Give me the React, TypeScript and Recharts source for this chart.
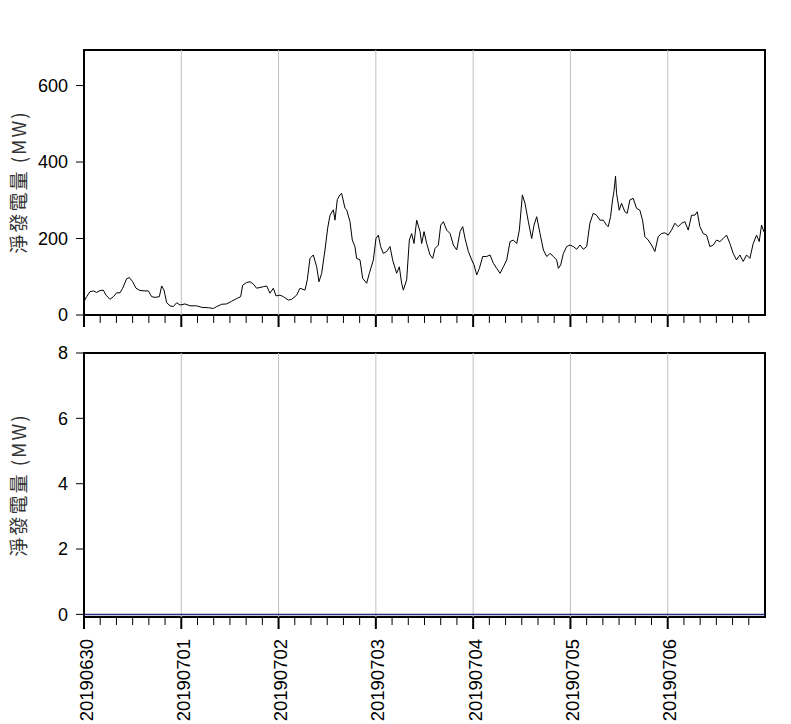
import React from "react";
import {
  LineChart,
  Line,
  XAxis,
  YAxis,
  ReferenceLine,
  ReferenceArea,
} from "recharts";

// hours since 2019-06-30 00:00
const hours = [
  0.0, 0.66, 1.48, 2.3, 3.13, 3.95, 4.77, 5.43, 6.41, 7.24,
  8.06, 8.88, 9.54, 10.53, 11.18, 12.01, 12.83, 13.82, 15.05, 15.87,
  16.69, 17.52, 18.59, 19.16, 19.74, 20.39, 21.22, 22.04, 22.86, 23.68,
  24.92, 26.15, 27.8, 29.03, 30.67, 31.91, 32.73, 33.96, 35.2, 36.43,
  37.66, 38.65, 39.14, 40.13,
  40.95, 41.77, 42.59, 43.42, 44.24, 45.06, 45.88, 46.71, 47.36, 48.35,
  49.17, 50.41, 51.23, 52.46, 53.28, 54.52, 55.09, 55.75, 56.57, 57.4,
  57.97, 58.63, 59.45, 60.11, 60.69, 61.51, 61.92, 62.49, 63.15, 63.56,
  64.39, 64.8, 65.62, 66.19, 66.85, 67.26, 68.09, 68.74, 69.73, 70.39,
  71.38, 72.03, 72.61, 73.18, 73.84, 74.66, 75.49, 76.14, 77.13, 77.79,
  78.36, 78.78, 79.6, 80.26, 80.83, 81.41, 82.07,
  82.9, 83.31, 83.89, 84.54, 85.37, 86.02, 86.6, 87.42, 88.0, 88.66,
  89.48, 90.3, 91.12, 91.95, 92.77, 93.43, 94.0, 94.82, 95.65, 96.22,
  96.88, 97.54, 98.36, 99.35, 100.17, 101.0, 101.81, 102.64, 103.46, 104.28,
  105.1, 105.92, 106.75, 107.4, 108.14, 108.8, 109.62, 110.45, 111.02, 111.68,
  112.5, 113.33, 114.15, 114.97, 115.79, 116.61, 117.03, 117.6, 118.26, 119.08,
  119.9, 120.73, 121.55, 122.37, 123.19, 124.02,
  124.8, 125.62, 126.45, 127.27, 128.09, 128.91, 129.32, 129.9, 130.39, 130.72,
  131.13, 131.38, 132.04, 132.61, 133.43, 134.01, 134.67, 135.49, 136.31, 137.13,
  137.79, 138.37, 139.19, 140.01, 140.83, 141.66, 142.48, 143.3, 144.12, 144.95,
  145.77, 146.59, 147.41, 148.24, 149.06, 149.88, 150.7, 151.28, 151.94, 152.76,
  153.58, 154.4, 155.23, 156.05, 156.87, 157.69, 158.51, 159.34, 160.16, 160.98,
  161.8, 162.63, 163.45, 164.27, 165.09, 165.92, 166.57, 167.15, 167.72, 168.0,
];

// net generation (MW), top panel
const netMW = [
  35, 48, 61, 63, 59, 64, 65, 52, 41, 48,
  58, 58, 70, 95, 98, 87, 70, 64, 63, 63,
  48, 46, 48, 76, 65, 32, 24, 22, 32, 26,
  29, 24, 24, 20, 19, 17, 22, 28, 29, 36,
  43, 48, 78, 85,
  87, 81, 70, 72, 74, 76, 57, 70, 50, 52,
  48, 39, 41, 52, 70, 65, 92, 148, 157, 126,
  87, 109, 170, 227, 261, 275, 248, 302, 314, 318,
  279, 275, 244, 196, 179, 148, 144, 96, 83, 109,
  144, 200, 209, 179, 161, 166, 179, 144, 109, 126,
  83, 65, 92, 196, 213, 187, 248,
  218, 187, 218, 187, 157, 148, 174, 183, 235, 244,
  222, 213, 183, 170, 218, 231, 200, 166, 144, 131,
  105, 122, 153, 153, 157, 135, 122, 109, 126, 144,
  192, 196, 187, 222, 314, 292, 244, 200, 235, 257,
  213, 170, 153, 161, 153, 144, 122, 131, 161, 179,
  183, 179, 172, 183, 172, 179,
  240, 266, 261, 248, 248, 235, 231, 257, 301, 322,
  363, 318, 274, 292, 270, 266, 301, 305, 279, 274,
  248, 205, 196, 183, 166, 205, 213, 215, 209, 222,
  240, 231, 240, 244, 222, 261, 261, 270, 231, 213,
  209, 179, 183, 196, 192, 200, 209, 187, 161, 144,
  157, 140, 157, 148, 187, 209, 192, 235, 218, 225,
];

// bottom panel: flat zero
const lowerHours = [0, 168];
const lowerMW = [0, 0];

const dayLabels = ["20190630", "20190701", "20190702", "20190703", "20190704", "20190705", "20190706"];
const topTicks = [0, 200, 400, 600];
const lowerTicks = [0, 2, 4, 6, 8];

const topData = hours.map((t, i) => ({ t, mw: netMW[i] }));
const lowerData = lowerHours.map((t, i) => ({ t, mw: lowerMW[i] }));
const xTicks = dayLabels.flatMap((_, d) => [0, 4, 8, 12, 16, 20].map((h) => d * 24 + h));
const dayLines = dayLabels.slice(1).map((_, i) => (i + 1) * 24);

const FONT = '"Liberation Sans", Arial, sans-serif';
const TOP_MAX = 693;
const LOW_MIN = -0.08;

function TimeTick(props: any) {
  const { x, y, payload, withLabel } = props;
  const h = payload.value as number;
  const major = h % 24 === 0;
  return (
    <g>
      <line
        x1={x}
        x2={x}
        y1={y}
        y2={y + (major ? 12 : 8)}
        stroke="#000"
        strokeWidth={major ? 2 : 1}
      />
      {withLabel && major ? (
        <text
          transform={`translate(${x + 2},${y + 22}) rotate(-90)`}
          textAnchor="end"
          dominantBaseline="central"
          fontFamily={FONT}
          fontSize={18.5}
          fill="#000"
        >
          {dayLabels[h / 24]}
        </text>
      ) : null}
    </g>
  );
}

function YLabel({ top }: { top: number }) {
  return (
    <div
      style={{
        position: "absolute",
        left: 17,
        top,
        transform: "translate(-50%, -50%) rotate(-90deg)",
        whiteSpace: "nowrap",
        fontFamily: '"Noto Sans CJK TC", "Liberation Sans", sans-serif',
        fontSize: 19,
        letterSpacing: 2,
        color: "#333",
        lineHeight: 1,
      }}
    >
      淨發電量 (MW)
    </div>
  );
}

export default function App() {
  const tickStyle = { fill: "#000", fontSize: 18, fontFamily: FONT };
  return (
    <div style={{ position: "absolute", left: 0, top: 0, width: 791, height: 724, background: "#fff" }}>
      <div style={{ position: "absolute", left: 0, top: 0 }}>
        <LineChart width={791} height={340} data={topData} margin={{ top: 50, right: 26, bottom: 0, left: 24 }}>
          <XAxis
            dataKey="t"
            type="number"
            domain={[0, 168]}
            ticks={xTicks}
            interval={0}
            height={25}
            axisLine={false}
            tickLine={false}
            tickSize={0}
            tickMargin={0}
            tick={(p: any) => <TimeTick {...p} withLabel={false} />}
          />
          <YAxis
            type="number"
            domain={[0, TOP_MAX]}
            ticks={topTicks}
            allowDataOverflow
            width={60}
            axisLine={false}
            tickSize={8}
            tickMargin={8}
            tickLine={{ stroke: "#000" }}
            tick={tickStyle}
          />
          {dayLines.map((d) => (
            <ReferenceLine key={d} x={d} stroke="#c0c0c0" strokeWidth={1} />
          ))}
          <Line
            type="linear"
            dataKey="mw"
            stroke="#000"
            strokeWidth={1}
            dot={false}
            isAnimationActive={false}
          />
          <ReferenceArea x1={0} x2={168} y1={0} y2={TOP_MAX} fill="none" stroke="#000" strokeWidth={2} />
        </LineChart>
      </div>
      <div style={{ position: "absolute", left: 0, top: 340 }}>
        <LineChart width={791} height={384} data={lowerData} margin={{ top: 13, right: 26, bottom: 0, left: 24 }}>
          <XAxis
            dataKey="t"
            type="number"
            domain={[0, 168]}
            ticks={xTicks}
            interval={0}
            height={107}
            axisLine={false}
            tickLine={false}
            tickSize={0}
            tickMargin={0}
            tick={(p: any) => <TimeTick {...p} withLabel />}
          />
          <YAxis
            type="number"
            domain={[LOW_MIN, 8]}
            ticks={lowerTicks}
            allowDataOverflow
            width={60}
            axisLine={false}
            tickSize={8}
            tickMargin={8}
            tickLine={{ stroke: "#000" }}
            tick={tickStyle}
          />
          {dayLines.map((d) => (
            <ReferenceLine key={d} x={d} stroke="#c0c0c0" strokeWidth={1} />
          ))}
          <ReferenceArea x1={0} x2={168} y1={LOW_MIN} y2={8} fill="none" stroke="#000" strokeWidth={2} />
          <Line
            type="linear"
            dataKey="mw"
            stroke="#2b2b80"
            strokeWidth={1.5}
            dot={false}
            isAnimationActive={false}
          />
        </LineChart>
      </div>
      <YLabel top={182} />
      <YLabel top={485} />
    </div>
  );
}
